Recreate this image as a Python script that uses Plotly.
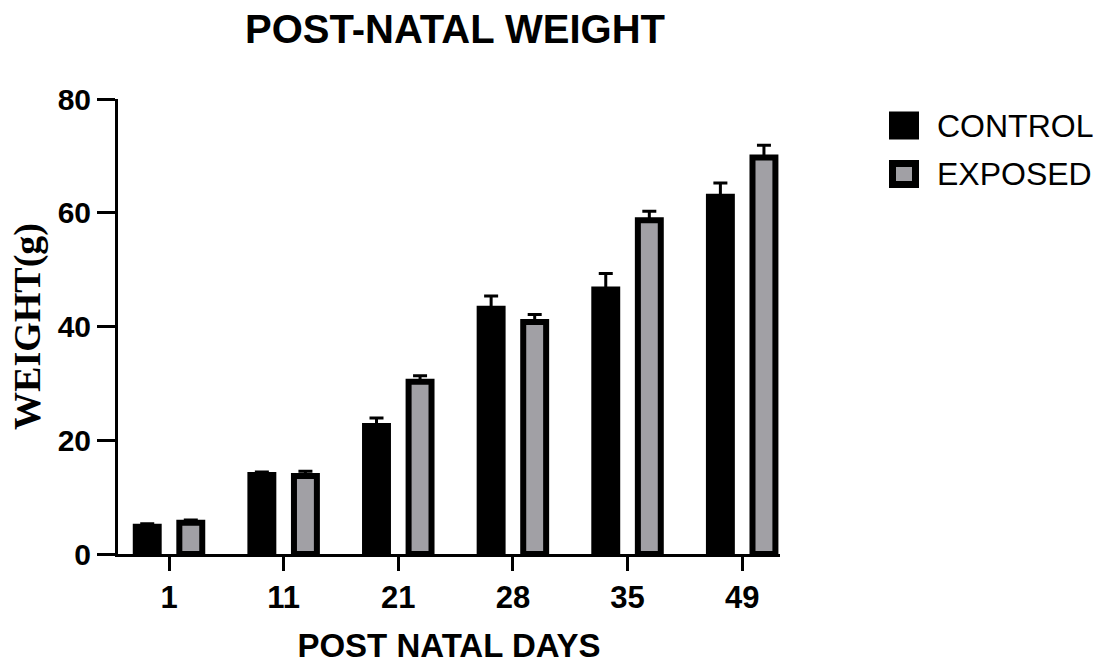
import plotly.graph_objects as go

days = ["1", "11", "21", "28", "35", "49"]
control = [4.8, 13.9, 22.5, 43.1, 46.5, 62.8]
control_err = [0.5, 0.5, 1.4, 2.25, 2.8, 2.45]
exposed = [5.5, 13.7, 30.3, 40.8, 58.7, 69.7]
exposed_err = [0.5, 0.85, 1.05, 1.3, 1.55, 2.15]
series_names = ["CONTROL", "EXPOSED"]

GRAY = "#A1A0A5"
FONT = "Arial, Liberation Sans, sans-serif"
SERIF = "Liberation Serif, Times New Roman, serif"

W, H = 1102, 664
L, R, T, B = 118, 322, 99, 110
PW, PH = W - L - R, H - T - B


def px_to_paper_x(px):
    return (px - L) / PW


def px_to_paper_y(py):
    return (H - B - py) / PH


fig = go.Figure()
fig.add_trace(go.Bar(
    name=series_names[0], x=days, y=control,
    width=0.2, offset=-0.29,
    marker=dict(color="black", line=dict(color="black", width=6)),
    error_y=dict(type="data", array=control_err, arrayminus=[0] * 6, symmetric=False,
                 color="black", thickness=3, width=7),
    showlegend=False,
))
fig.add_trace(go.Bar(
    name=series_names[1], x=days, y=exposed,
    width=0.2, offset=0.09,
    marker=dict(color=GRAY, line=dict(color="black", width=6)),
    error_y=dict(type="data", array=exposed_err, arrayminus=[0] * 6, symmetric=False,
                 color="black", thickness=3, width=7),
    showlegend=False,
))

# legend drawn as shapes + text
legend_fills = ["black", GRAY]
legend_rows = [125.5, 174]
shapes, annotations = [], []
for name, fill, cy in zip(series_names, legend_fills, legend_rows):
    shapes.append(dict(
        type="rect", xref="paper", yref="paper",
        x0=px_to_paper_x(892.5), x1=px_to_paper_x(915.5),
        y0=px_to_paper_y(cy - 10.5), y1=px_to_paper_y(cy + 10.5),
        fillcolor=fill, line=dict(color="black", width=7),
    ))
    annotations.append(dict(
        text=name, xref="paper", yref="paper",
        x=px_to_paper_x(935), y=px_to_paper_y(cy),
        xanchor="left", yanchor="middle", showarrow=False,
        font=dict(size=32, family=FONT, color="black"),
    ))

fig.update_layout(
    width=W, height=H,
    barmode="overlay",
    paper_bgcolor="white", plot_bgcolor="white",
    margin=dict(l=L, r=R, t=T, b=B, autoexpand=False),
    font=dict(family=FONT, color="black"),
    title=dict(text="POST-NATAL WEIGHT", x=455 / W, xanchor="center",
               y=1 - 29 / H, yanchor="middle",
               font=dict(size=40, family=FONT, weight="bold")),
    showlegend=False,
    shapes=shapes,
    annotations=annotations,
)
fig.update_xaxes(
    type="category", range=[-0.445, 5.33], automargin=False,
    showline=True, linecolor="black", linewidth=3,
    ticks="outside", ticklen=14, tickwidth=3, tickcolor="black",
    tickfont=dict(size=31, family=FONT, weight="bold"), showgrid=False, zeroline=False,
    title=dict(text="POST NATAL DAYS", font=dict(size=33, family=FONT, weight="bold"), standoff=21),
)
fig.update_yaxes(
    range=[0, 80], tickvals=[0, 20, 40, 60, 80], automargin=False,
    showline=True, linecolor="black", linewidth=3,
    ticks="outside", ticklen=18, tickwidth=3, tickcolor="black",
    tickfont=dict(size=30, family=FONT, weight="bold"), showgrid=False, zeroline=False,
    title=dict(text="WEIGHT(g)", font=dict(size=38, family=SERIF, weight="bold"), standoff=6),
)
fig.write_html(
    "out.html",
    config={"displayModeBar": False},
    post_script="document.body.style.margin='0';document.body.style.overflow='hidden';",
)
